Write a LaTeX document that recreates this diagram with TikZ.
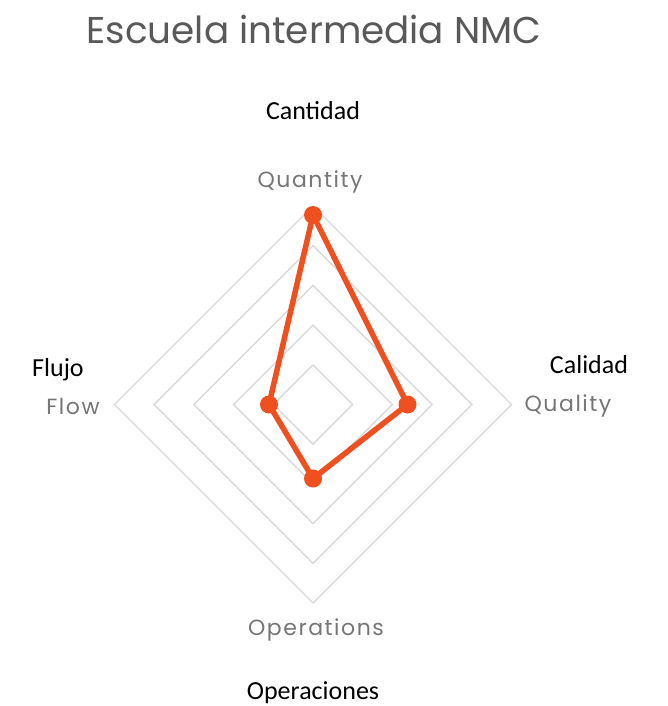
\documentclass[tikz,border=0pt]{standalone}
\usepackage{fontspec}
\setmainfont{Carlito}
\newfontfamily\gfont{Poppins}
\newfontfamily\gfontsp[LetterSpace=7]{Poppins}
\usetikzlibrary{calc}
\definecolor{titlegray}{HTML}{595959}
\definecolor{axisgray}{HTML}{767676}
\definecolor{ringgray}{HTML}{D9D9D9}
\definecolor{seriesorange}{HTML}{F0501F}
\tikzset{
  ring/.style={draw=ringgray, line width=1.4pt},
  series/.style={draw=seriesorange, line width=5.5pt, line join=round},
  dot/.style={circle, fill=seriesorange, inner sep=0pt, minimum size=18pt},
  axislabel/.style={text=axisgray, font=\gfontsp\fontsize{22}{25}\selectfont, inner sep=0pt},
  eslabel/.style={text=black, font=\fontsize{26}{30}\selectfont, inner sep=0pt},
  titlelabel/.style={text=titlegray, font=\gfont\fontsize{37.3}{42}\selectfont, inner sep=0pt}
}
\begin{document}
\begin{tikzpicture}[x=1pt,y=-1pt]
\useasboundingbox (0,0) rectangle (667,706);
\fill[white] (0,0) rectangle (667,706);
\coordinate (c) at (313,404.5);
\foreach \k in {1,...,5}{
  \pgfmathsetmacro{\r}{39.7*\k}
  \draw[ring, shift={(c)}] (0,-\r) -- (\r,0) -- (0,\r) -- (-\r,0) -- cycle;
}
\node[dot] (pq) at ($(c)+(0,-189.5)$) {};
\node[dot] (pql) at ($(c)+(94.5,0)$) {};
\node[dot] (po) at ($(c)+(0,74)$) {};
\node[dot] (pf) at ($(c)+(-44,0)$) {};
\draw[series] (pq.center) -- (pql.center) -- (po.center) -- (pf.center) -- cycle;
\node[titlelabel] (title) at (314,29) {Escuela intermedia NMC};
\node[eslabel] (cant) at (313,111) {Cantidad};
\node[axislabel] (quant) at (310,182) {Quantity};
\node[eslabel] (flujo) at (58,370) {Flujo};
\node[axislabel] (flow) at (73,406) {Flow};
\node[eslabel] (cal) at (589,365) {Calidad};
\node[axislabel] (qual) at (568,406) {Quality};
\node[axislabel] (oper) at (316,630) {Operations};
\node[eslabel] (operes) at (313,693) {Operaciones};
\end{tikzpicture}
\end{document}
